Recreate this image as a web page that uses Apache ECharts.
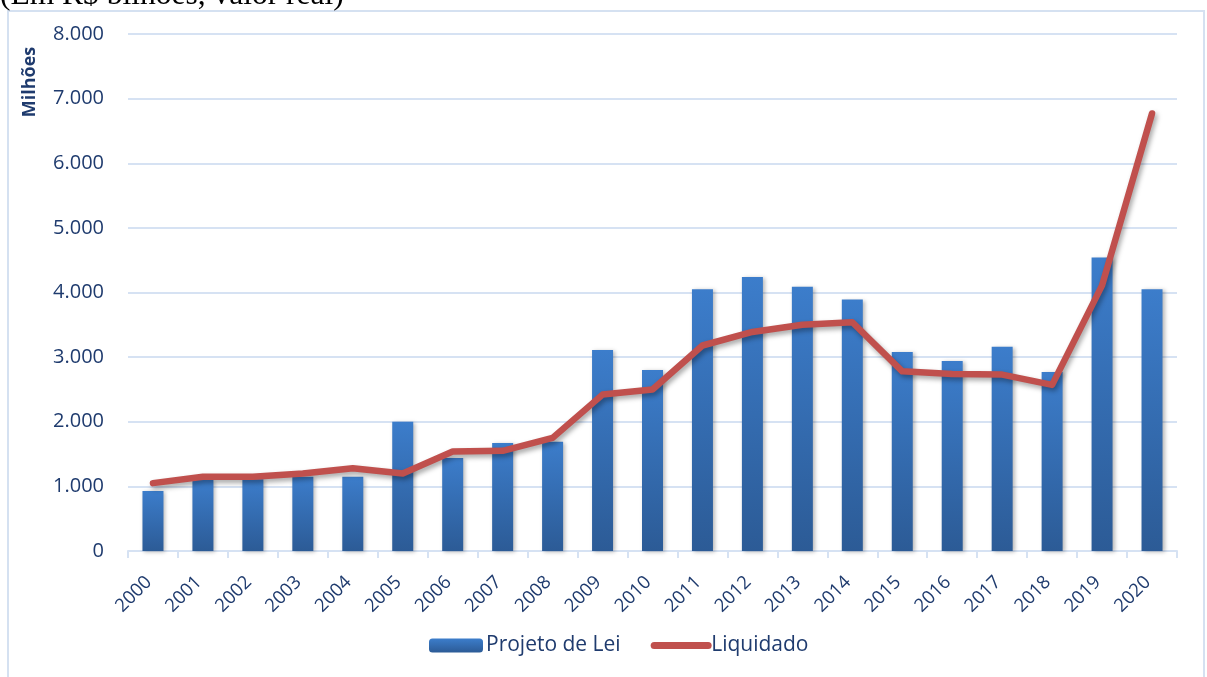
<!DOCTYPE html>
<html>
<head>
<meta charset="utf-8">
<script src="https://cdn.jsdelivr.net/npm/echarts@6/dist/echarts.min.js"></script>
<style>
  html, body { margin: 0; padding: 0; background: #ffffff; }
  #chart { width: 1207px; height: 677px; }
</style>
</head>
<body>
<div id="chart"></div>
<script>
// Anos (categorias do eixo X)
const years = ['2000','2001','2002','2003','2004','2005','2006','2007','2008','2009','2010',
               '2011','2012','2013','2014','2015','2016','2017','2018','2019','2020'];

// Valores em milhões de R$
const projetoDeLei = [930, 1100, 1110, 1150, 1150, 2000, 1440, 1670, 1690, 3110, 2800,
                      4050, 4240, 4090, 3890, 3080, 2940, 3160, 2770, 4540, 4050];
const liquidado    = [1050, 1150, 1150, 1200, 1280, 1200, 1540, 1550, 1750, 2420, 2500,
                      3180, 3390, 3500, 3540, 2780, 2740, 2730, 2570, 4110, 6770];

// Rótulos do eixo Y
const yTicks = [0, 1000, 2000, 3000, 4000, 5000, 6000, 7000, 8000];

const labelColor = '#1F3B6E';
const gridColor = '#D6E2F3';
const font = '"Open Sans", "Noto Sans", sans-serif';

const fmt = v => v === 0 ? '0' : v.toLocaleString('de-DE');

const chart = echarts.init(document.getElementById('chart'), null, { renderer: 'canvas' });

chart.setOption({
  animation: false,
  backgroundColor: '#ffffff',
  textStyle: { fontFamily: font },
  graphic: [
    {
      type: 'rect',
      shape: { x: 8, y: 11, width: 1196, height: 700 },
      style: { fill: 'none', stroke: '#D5E1F1', lineWidth: 2 },
      silent: true
    },
    {
      type: 'text',
      x: 0, y: -4,
      style: {
        text: '(Em R$ bilhões, valor real)',
        font: '31.5px "Liberation Serif", "Times New Roman", serif',
        fill: '#000000',
        verticalAlign: 'middle',
        align: 'left'
      }
    },
    {
      type: 'text',
      x: 30, y: 82,
      rotation: Math.PI / 2,
      style: {
        text: 'Milhões',
        font: 'bold 18px ' + font,
        fill: labelColor,
        align: 'center',
        verticalAlign: 'middle'
      }
    }
  ],
  grid: { left: 128, right: 30, top: 34, bottom: 126, containLabel: false },
  legend: {
    bottom: 16,
    left: 424,
    itemWidth: 54,
    itemHeight: 14,
    itemGap: 30,
    textStyle: { color: labelColor, fontSize: 21, fontFamily: font, padding: [0, 0, 0, -2] },
    data: [
      { name: 'Projeto de Lei' },
      {
        name: 'Liquidado',
        itemStyle: { opacity: 0 },
        lineStyle: { width: 7, cap: 'round', color: '#C0504D' }
      }
    ]
  },
  xAxis: {
    type: 'category',
    data: years,
    boundaryGap: true,
    axisLine: { lineStyle: { color: gridColor, width: 2 } },
    axisTick: { show: true, alignWithLabel: false, length: 7, lineStyle: { color: gridColor, width: 2 } },
    axisLabel: {
      rotate: 45,
      color: labelColor,
      fontSize: 18.5,
      fontFamily: font,
      margin: 24,
      padding: [0, 6, 0, 0],
      interval: 0
    }
  },
  yAxis: {
    type: 'value',
    min: yTicks[0],
    max: yTicks[yTicks.length - 1],
    interval: 1000,
    axisLine: { show: false },
    axisTick: { show: false },
    splitLine: { lineStyle: { color: gridColor, width: 2 } },
    axisLabel: {
      color: labelColor,
      fontSize: 20,
      fontFamily: font,
      margin: 24,
      formatter: fmt
    }
  },
  series: [
    {
      name: 'Projeto de Lei',
      type: 'bar',
      data: projetoDeLei,
      barWidth: 21,
      itemStyle: {
        color: new echarts.graphic.LinearGradient(0, 0, 0, 1, [
          { offset: 0, color: '#3C7DCB' },
          { offset: 1, color: '#2C5B96' }
        ]),
        shadowColor: 'rgba(0,0,0,0.28)',
        shadowBlur: 4,
        shadowOffsetX: 2,
        shadowOffsetY: 1
      }
    },
    {
      name: 'Liquidado',
      type: 'line',
      data: liquidado,
      symbol: 'none',
      smooth: false,
      lineStyle: {
        color: '#C0504D',
        width: 6.5,
        cap: 'round',
        join: 'round',
        shadowColor: 'rgba(0,0,0,0.35)',
        shadowBlur: 5,
        shadowOffsetX: 2,
        shadowOffsetY: 3
      },
      itemStyle: { color: '#C0504D' }
    }
  ]
});
</script>
</body>
</html>
